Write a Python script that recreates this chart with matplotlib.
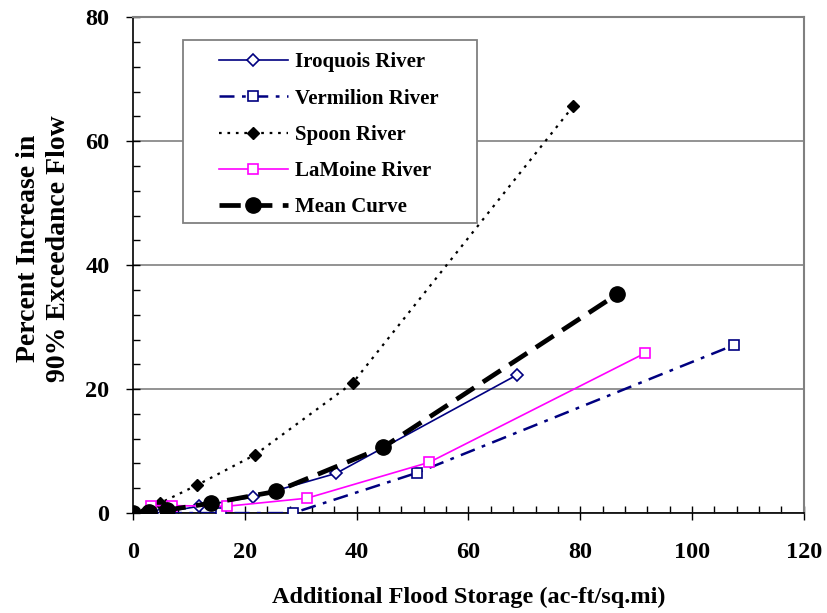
import matplotlib
matplotlib.use("Agg")
import matplotlib.pyplot as plt
from matplotlib.patches import Rectangle
from matplotlib.ticker import MultipleLocator

plt.rcParams['font.family'] = ['Liberation Serif', 'DejaVu Serif']
plt.rcParams['font.weight'] = 'bold'
plt.rcParams['axes.labelweight'] = 'bold'

# storage (ac-ft/sq.mi) vs percent increase in 90% exceedance flow
iroquois_x = [0, 5.2, 11.8, 21.5, 36.3, 68.7]
iroquois_y = [0, 0.1, 1.1, 2.6, 6.4, 22.3]

vermilion_x = [0, 6.6, 15.7, 28.6, 50.8, 107.5]
vermilion_y = [0, 0, 0, 0, 6.5, 27.1]

spoon_x = [0, 4.8, 11.4, 21.8, 39.3, 78.7]
spoon_y = [0, 1.6, 4.5, 9.4, 21.0, 65.6]

lamoine_x = [3.2, 7.0, 16.8, 31.1, 53.0, 91.6]
lamoine_y = [1.2, 1.2, 1.1, 2.4, 8.2, 25.8]

mean_x = [0, 2.9, 6.1, 14.0, 25.6, 44.7, 86.6]
mean_y = [0, 0.2, 0.5, 1.6, 3.5, 10.6, 35.3]

fig = plt.figure(figsize=(8.27, 6.13), dpi=100)
ax = fig.add_axes([0.161, 0.163, 0.811, 0.809])

ax.plot(iroquois_x, iroquois_y, color='#000080', lw=1.2, marker='D', ms=6,
        mfc='white', mec='#000080', mew=1.2, label='Iroquois River', zorder=3)
ax.plot(vermilion_x, vermilion_y, color='#000080', lw=1.8, dashes=(6, 3, 1.5, 3),
        marker='s', ms=7, mfc='white', mec='#000080', mew=1.2,
        label='Vermilion River', zorder=3)
ax.plot(spoon_x, spoon_y, color='black', lw=1.6, dashes=(1.2, 2.6),
        marker='D', ms=6, mfc='black', mec='black', label='Spoon River', zorder=3)
ax.plot(lamoine_x, lamoine_y, color='#FF00FF', lw=1.2, marker='s', ms=7,
        mfc='white', mec='#FF00FF', mew=1.2, label='LaMoine River', zorder=3)
ax.plot(mean_x, mean_y, color='black', lw=3.4, dashes=(4.5, 2.2),
        marker='o', ms=11, mfc='black', mec='black', label='Mean Curve', zorder=4)

ax.set_xlim(0, 120)
ax.set_ylim(0, 80)
ax.xaxis.set_major_locator(MultipleLocator(20))
ax.xaxis.set_minor_locator(MultipleLocator(4))
ax.yaxis.set_major_locator(MultipleLocator(20))
ax.yaxis.set_minor_locator(MultipleLocator(4))
ax.tick_params(which='major', direction='inout', length=10, width=1, labelsize=17.5)
ax.tick_params(which='minor', direction='in', length=5, width=1)
ax.tick_params(axis='x', pad=16)
ax.tick_params(axis='y', pad=12)

ax.yaxis.grid(True, which='major', color='#808080', lw=1.2)
ax.set_axisbelow(True)
for side in ['top', 'right']:
    ax.spines[side].set_color('#808080')
    ax.spines[side].set_linewidth(1.5)
for side in ['left', 'bottom']:
    ax.spines[side].set_linewidth(1.2)

ax.set_xlabel('Additional Flood Storage (ac-ft/sq.mi)', fontsize=17.5, labelpad=17)
ax.set_ylabel('Percent Increase in\n90% Exceedance Flow', fontsize=20,
              linespacing=1.3)
ax.yaxis.set_label_coords(-0.092, 0.534)

# legend box drawn separately so the inner padding can be wider than tall
box = Rectangle((0.0745, 0.585), 0.438, 0.369, transform=ax.transAxes,
                facecolor='white', edgecolor='#808080', lw=1.3, zorder=8)
ax.add_patch(box)
leg = ax.legend(loc='upper left', bbox_to_anchor=(0.128, 0.929), borderaxespad=0,
                borderpad=0, fontsize=15, handlelength=3.3, labelspacing=0.78,
                frameon=False, handletextpad=0.35)
leg.set_zorder(9)
for t in leg.get_texts():
    t.set_fontweight('bold')

fig.savefig('out.png', dpi=100)
